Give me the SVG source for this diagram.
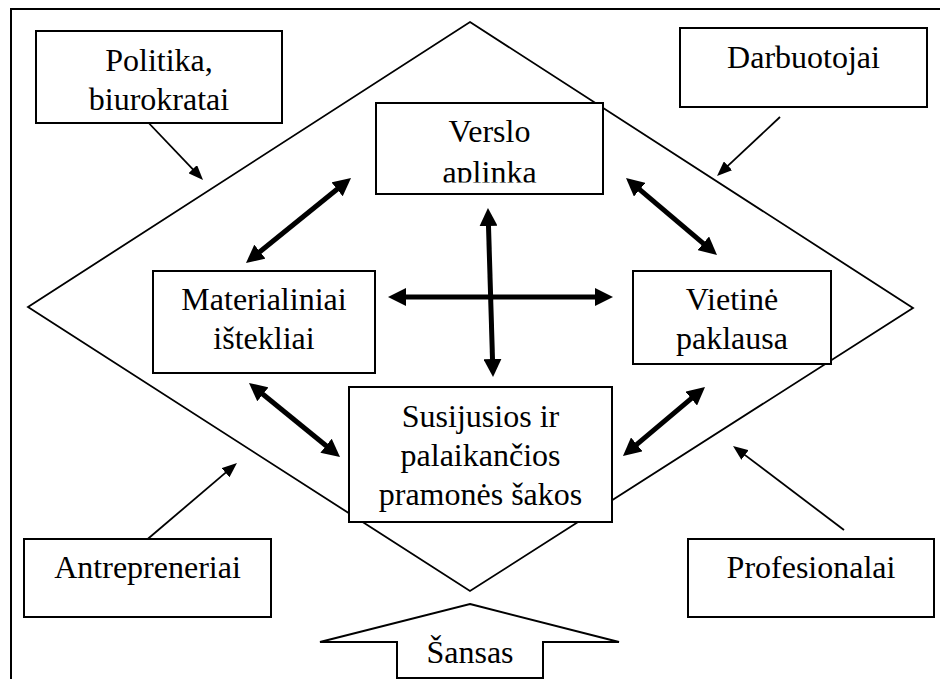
<svg xmlns="http://www.w3.org/2000/svg" width="940" height="679" viewBox="0 0 940 679" font-family="'Liberation Serif', 'Times New Roman', Times, serif">
  <style>
    .box { fill: #fff; stroke: #000; stroke-width: 2; }
    .frame { fill: none; stroke: #000; stroke-width: 2; }
    .diamond { fill: none; stroke: #000; stroke-width: 1.8; }
    text { font-family: 'Liberation Serif', 'Times New Roman', Times, serif; font-size: 32px; fill: #000; text-anchor: middle; }
    .thin { stroke: #000; stroke-width: 1.8; fill: none; marker-end: url(#headThin); }
    .thick { stroke: #000; stroke-width: 5; fill: none; marker-start: url(#headThick); marker-end: url(#headThick); }
  </style>
  <defs>
    <marker id="headThin" markerUnits="userSpaceOnUse" viewBox="0 0 15 12" refX="9" refY="6" markerWidth="15" markerHeight="12" orient="auto">
      <path d="M0,0 L15,6 L0,12 z" fill="#000"/>
    </marker>
    <marker id="headThick" markerUnits="userSpaceOnUse" viewBox="0 0 18 18" refX="10" refY="9" markerWidth="18" markerHeight="18" orient="auto-start-reverse">
      <path d="M0,0 L18,9 L0,18 z" fill="#000"/>
    </marker>
    <clipPath id="clipVerslo">
      <rect x="377" y="104" width="225" height="78.5"/>
    </clipPath>
  </defs>

  <!-- page frame -->
  <path class="frame" d="M11,679 V9 H940"/>

  <!-- outer diamond -->
  <polygon class="diamond" points="470,22 913,308 470,591 28,307"/>

  <!-- connectors -->
  <g id="connectors">
    <line class="thin" x1="143" y1="117" x2="198.9" y2="175.7"/>
    <line class="thin" x1="780" y1="117" x2="721.4" y2="171.9"/>
    <line class="thin" x1="143" y1="543" x2="232.4" y2="466.9"/>
    <line class="thin" x1="844" y1="530" x2="737.8" y2="449.6"/>

    <line class="thick" x1="252.2" y1="258" x2="344.8" y2="183"/>
    <line class="thick" x1="632.1" y1="183.2" x2="710.9" y2="249.8"/>
    <line class="thick" x1="255.2" y1="388" x2="333.8" y2="452"/>
    <line class="thick" x1="629.1" y1="450.8" x2="698.9" y2="392.2"/>
    <line class="thick" x1="396" y1="297" x2="605" y2="297"/>
    <line class="thick" x1="488.2" y1="216" x2="492.8" y2="369"/>
  </g>

  <g id="politika">
    <rect class="box" x="36" y="31" width="246" height="92"/>
    <text x="159" y="71">Politika,</text>
    <text x="159" y="110">biurokratai</text>
  </g>

  <g id="darbuotojai">
    <rect class="box" x="680" y="28" width="247" height="79"/>
    <text x="803.5" y="68">Darbuotojai</text>
  </g>

  <g id="verslo-aplinka">
    <rect class="box" x="376" y="103" width="227" height="91"/>
    <g clip-path="url(#clipVerslo)">
      <text x="489.5" y="142">Verslo</text>
      <text x="489.5" y="183">aplinka</text>
    </g>
  </g>

  <g id="materialiniai">
    <rect class="box" x="153" y="271" width="222" height="102"/>
    <text x="264" y="310">Materialiniai</text>
    <text x="264" y="349">ištekliai</text>
  </g>

  <g id="vietine-paklausa">
    <rect class="box" x="633" y="271" width="198" height="93"/>
    <text x="732" y="310">Vietinė</text>
    <text x="732" y="349">paklausa</text>
  </g>

  <g id="susijusios">
    <rect class="box" x="349" y="387" width="263" height="135"/>
    <text x="480.5" y="427">Susijusios ir</text>
    <text x="480.5" y="466">palaikančios</text>
    <text x="480.5" y="505">pramonės šakos</text>
  </g>

  <g id="antrepreneriai">
    <rect class="box" x="24" y="539" width="247" height="78"/>
    <text x="147.5" y="578">Antrepreneriai</text>
  </g>

  <g id="profesionalai">
    <rect class="box" x="688" y="539" width="246" height="78"/>
    <text x="811" y="578">Profesionalai</text>
  </g>

  <g id="sansas">
    <polygon class="box" points="470,604 619,642 543,642 543,678 397,678 397,642 320,642"/>
    <text x="470" y="663">Šansas</text>
  </g>
</svg>
